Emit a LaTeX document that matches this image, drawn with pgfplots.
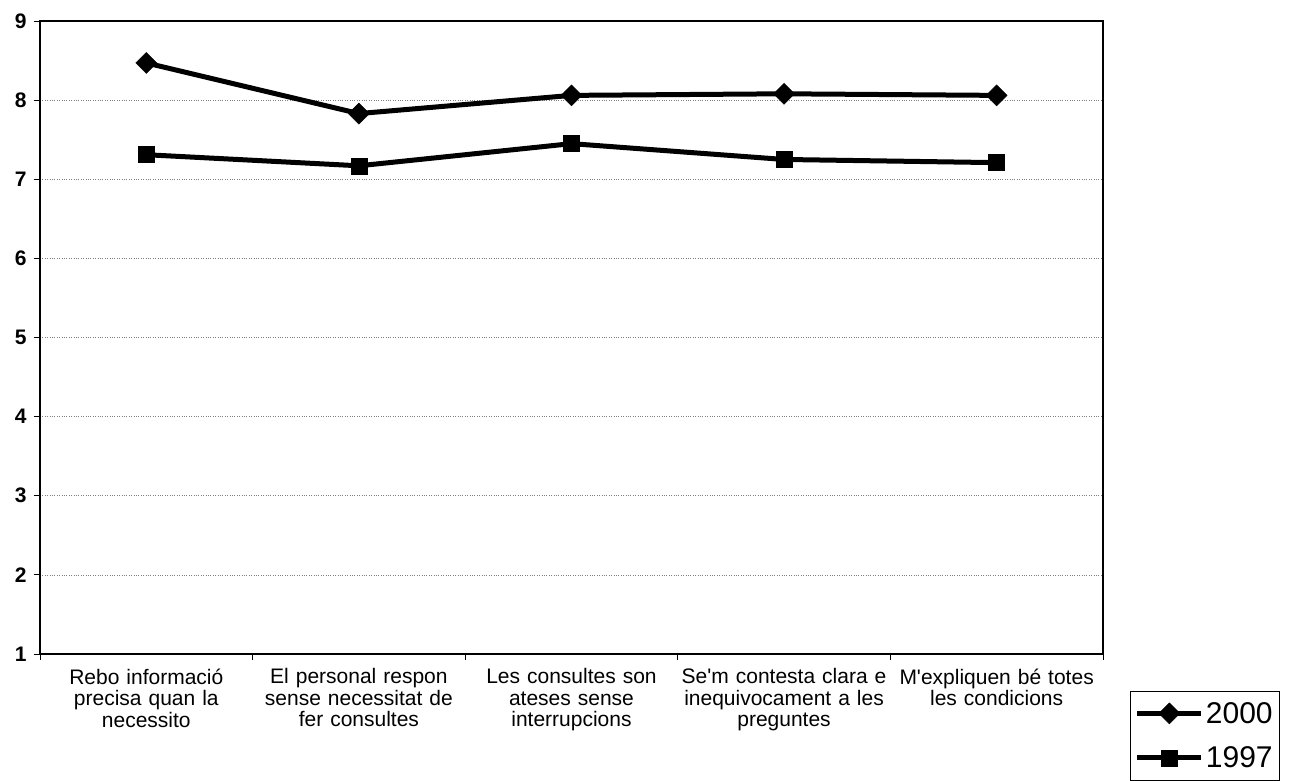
\documentclass[border=0pt]{standalone}
\usepackage{pgfplots}
\pgfplotsset{compat=1.18}
\usepackage{fontspec}
\setmainfont{Liberation Sans}
\begin{document}
\begin{tikzpicture}[x=1pt,y=1pt]
\useasboundingbox (0,0) rectangle (1292,780);
\begin{axis}[
  at={(40pt,126pt)}, anchor=south west,
  scale only axis, width=1063pt, height=633pt,
  xmin=0, xmax=5, ymin=1, ymax=9,
  ytick={1,...,9},
  xtick={0.5,1.5,2.5,3.5,4.5},
  xticklabels={{Rebo informació\\precisa quan la\\necessito},{El personal respon\\sense necessitat de\\fer consultes},{Les consultes son\\ateses sense\\interrupcions},{Se\textquotesingle m contesta clara e\\inequivocament a les\\preguntes},{M\textquotesingle expliquen bé totes\\les condicions}},
  minor xtick={0,1,2,3,4,5},
  major x tick style={draw=none},
  minor x tick style={black, line width=0.8pt},
  minor tick length=6pt,
  tick align=outside,
  major tick length=6pt,
  ytick style={black, line width=0.8pt},
  xtick pos=bottom, ytick pos=left,
  ymajorgrids,
  major grid style={gray, dotted, line width=0.6pt},
  axis line style={line width=1.2pt},
  /pgf/number format/assume math mode=true,
  yticklabel style={font=\fontsize{21}{24}\selectfont\bfseries, xshift=-4pt},
  xticklabel style={font=\fontsize{21}{21.5}\selectfont, align=center, text width=230pt, yshift=-5pt},
  legend style={at={(1.025,-0.058)}, anchor=north west, draw=black, line width=0.8pt,
    font=\fontsize{30}{32}\selectfont, row sep=18pt, inner xsep=5pt, inner ysep=9pt},
  legend cell align=left,
  legend image code/.code={\draw[mark repeat=2,mark phase=2,#1] plot coordinates {(0pt,0pt) (32pt,0pt) (64pt,0pt)};},
]
\addplot[black, line width=5pt, mark=square*, mark size=7.4pt, mark options={solid, rotate=45, line width=0.5pt}]
  coordinates {(0.5,8.47) (1.5,7.83) (2.5,8.06) (3.5,8.08) (4.5,8.06)};
\addlegendentry{2000}
\addplot[black, line width=5pt, mark=square*, mark size=8pt, mark options={solid, line width=0.5pt}]
  coordinates {(0.5,7.31) (1.5,7.17) (2.5,7.45) (3.5,7.25) (4.5,7.21)};
\addlegendentry{1997}
\end{axis}
\end{tikzpicture}
\end{document}
